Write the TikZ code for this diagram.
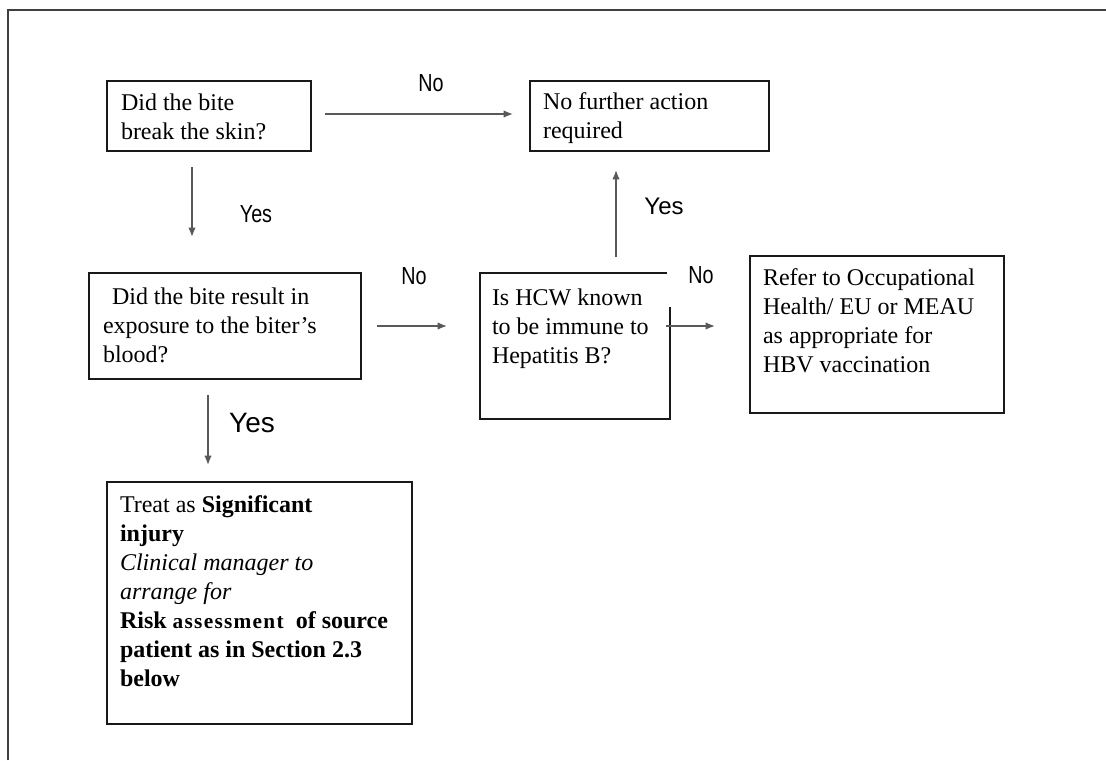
\documentclass[tikz,border=0pt]{standalone}
\usepackage{fontspec}
\setmainfont{Liberation Serif}
\newfontfamily\labsans{Liberation Sans}
\newfontfamily\labnarrow[FakeStretch=0.8]{Liberation Sans}
\usetikzlibrary{arrows.meta,calc}
\begin{document}
\begin{tikzpicture}[x=0.75pt,y=-0.75pt,
  frame/.style={draw=black!75, line width=1.5pt},
  boxframe/.style={draw=black!90, line width=1.2pt, inner sep=0pt, outer sep=0pt},
  boxlines/.style={draw=black!90, line width=1.2pt},
  plainbox/.style={inner sep=0pt, outer sep=0pt},
  txt/.style={anchor=base west, inner sep=0pt, outer sep=0pt, font=\fontsize{18}{21.75}\selectfont},
  arr/.style={draw=black!65, line width=1pt, -{Latex[length=7pt,width=5.5pt]}},
  labn/.style={inner sep=0pt, font=\labnarrow\fontsize{18.5}{20}\selectfont},
  labr/.style={inner sep=0pt, font=\labsans\fontsize{18}{20}\selectfont},
  labbig/.style={inner sep=0pt, font=\labsans\fontsize{21}{24}\selectfont}]
\useasboundingbox (0,0) rectangle (1106,760);
\draw[frame] (8,760) -- (8,10) -- (1106,10);

% boxes
\node[boxframe, minimum width=153pt, minimum height=52.5pt] (b1) at (209,116) {};
\node[boxframe, minimum width=179.25pt, minimum height=52.5pt] (b2) at (649.5,116) {};
\node[boxframe, minimum width=204pt, minimum height=79.5pt] (b3) at (225,326) {};
\node[plainbox, minimum width=142.5pt, minimum height=109.5pt] (b4) at (575,346) {};
\draw[boxlines] ($(b4.north east)+(-3,0)$) -- (b4.north west) -- (b4.south west) -- (b4.south east) -- ($(b4.north east)+(0,34)$);
\node[boxframe, minimum width=190.5pt, minimum height=117.75pt] (b5) at (877,334.5) {};
\node[boxframe, minimum width=228.75pt, minimum height=181.5pt] (b6) at (259.5,603) {};

% texts
\node[txt] (t1) at ($(b1.north west)+(14,29)$) {\parbox[t]{10cm}{Did the bite\\break the skin?}};
\node[txt] (t2) at ($(b2.north west)+(13,28)$) {\parbox[t]{10cm}{No further action\\required}};
\node[txt] (t3) at ($(b3.north west)+(14,31)$) {\parbox[t]{10cm}{\hspace*{6.75pt}Did the bite result in\\exposure to the biter\kern0.75pt's\\blood?}};
\node[txt] (t4) at ($(b4.north west)+(12,32)$) {\parbox[t]{10cm}{Is HCW known\\to be immune to\\Hepatitis B?}};
\node[txt] (t5) at ($(b5.north west)+(13,29)$) {\parbox[t]{10cm}{Refer to Occupational\\Health/ EU or MEAU\\as appropriate for\\HBV vaccination}};
\node[txt] (t6) at ($(b6.north west)+(13,30)$) {\parbox[t]{12cm}{Treat as \textbf{Significant}\\\textbf{injury}\\\textit{Clinical manager to}\\\textit{arrange for}\\\textbf{Risk} {\fontsize{16}{16}\selectfont\bfseries\addfontfeature{LetterSpace=6}assessment}\ \ \textbf{of source}\\\textbf{patient as in Section 2.3}\\\textbf{below}}};

% connectors
\coordinate (a1s) at ($(b1.east)+(0,-2)$);
\draw[arr, shorten <=10.5pt, shorten >=12.75pt] (a1s) -- (a1s -| b2.west);
\coordinate (a2s) at ($(b1.south)+(-17,0)$);
\draw[arr, shorten <=12pt, shorten >=27pt] (a2s) -- (a2s |- b3.north);
\draw[arr, shorten <=12pt, shorten >=24.75pt] (b3.east) -- (b3.east -| b4.west);
\coordinate (a4s) at ($(b4.north)+(41,0)$);
\draw[arr, shorten <=12pt, shorten >=14.25pt] (a4s) -- (a4s |- b2.south);
\coordinate (a5s) at ($(b4.east)+(0,-20)$);
\draw[arr, shorten <=-3pt, shorten >=26.25pt] (a5s) -- (a5s -| b5.west);
\coordinate (a6s) at ($(b3.south)+(-17,0)$);
\draw[arr, shorten <=12pt, shorten >=12.75pt] (a6s) -- (a6s |- b6.north);

% labels
\node[labn] (l1) at (431,83) {No};
\node[labn] (l2) at (256,214) {Yes};
\node[labn] (l3) at (414,276) {No};
\node[labr] (l4) at (664,206) {Yes};
\node[labn] (l5) at (701,275) {No};
\node[labbig] (l6) at (252,423) {Yes};
\end{tikzpicture}
\end{document}
